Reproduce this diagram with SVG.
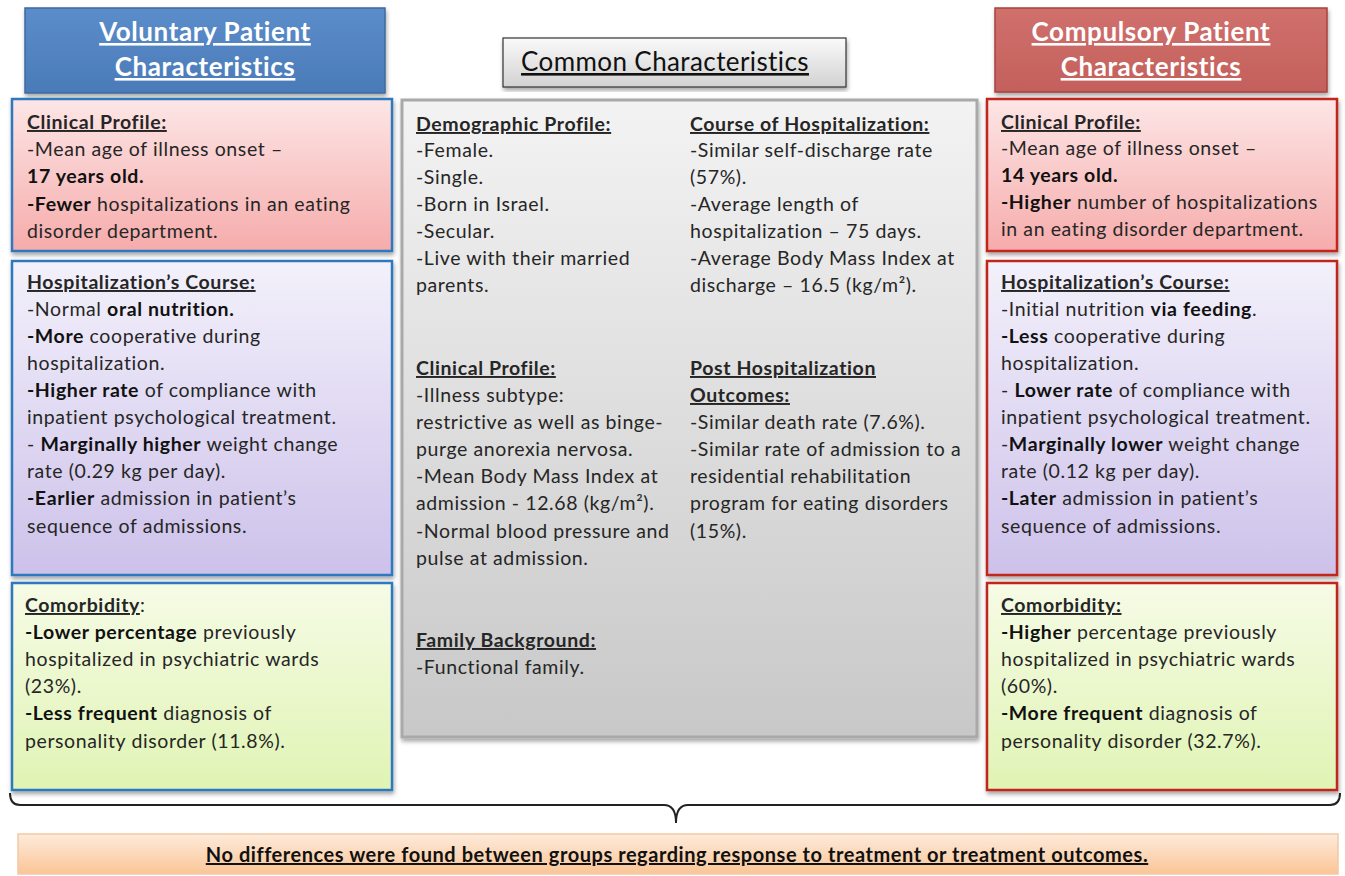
<svg xmlns="http://www.w3.org/2000/svg" width="1345" height="876" viewBox="0 0 1345 876">
<defs>
<linearGradient id="gPink" x1="0" y1="0" x2="0" y2="1"><stop offset="0" stop-color="#fde6e6"/><stop offset="1" stop-color="#f6abab"/></linearGradient>
<linearGradient id="gLav" x1="0" y1="0" x2="0" y2="1"><stop offset="0" stop-color="#f3f1fb"/><stop offset="1" stop-color="#cdc1ea"/></linearGradient>
<linearGradient id="gGreen" x1="0" y1="0" x2="0" y2="1"><stop offset="0" stop-color="#f6fbe6"/><stop offset="1" stop-color="#e0f4b4"/></linearGradient>
<linearGradient id="gGray" x1="0" y1="0" x2="0" y2="1"><stop offset="0" stop-color="#f3f3f3"/><stop offset="1" stop-color="#c8c8c8"/></linearGradient>
<linearGradient id="gHead" x1="0" y1="0" x2="0" y2="1"><stop offset="0" stop-color="#fafafa"/><stop offset="1" stop-color="#d2d2d2"/></linearGradient>
<linearGradient id="gBlue" x1="0" y1="0" x2="0" y2="1"><stop offset="0" stop-color="#5b8dca"/><stop offset="1" stop-color="#4a7bb8"/></linearGradient>
<linearGradient id="gRed" x1="0" y1="0" x2="0" y2="1"><stop offset="0" stop-color="#d0706c"/><stop offset="1" stop-color="#c3605c"/></linearGradient>
<linearGradient id="gOrange" x1="0" y1="0" x2="0" y2="1"><stop offset="0" stop-color="#fdebdc"/><stop offset="1" stop-color="#fbc596"/></linearGradient>
<filter id="sh" x="-5%" y="-5%" width="110%" height="115%"><feDropShadow dx="1" dy="3" stdDeviation="2" flood-color="#000" flood-opacity="0.35"/></filter>
</defs>
<style>
text{font-family:Lato,"Open Sans","Liberation Sans",sans-serif;fill:#262626;font-size:19.5px;letter-spacing:0.6px}
.h{font-weight:bold;text-decoration:underline}
.b{font-weight:bold;fill:#111}
.hd{font-weight:bold;font-size:26px;letter-spacing:0.6px;fill:#fff;text-decoration:underline;text-anchor:middle}
.blueB{stroke:#2f78bd;stroke-width:2.5}
.redB{stroke:#c0261d;stroke-width:2.5}
</style>
<rect width="1345" height="876" fill="#ffffff"/>

<g id="voluntary-header">
<rect x="25" y="8" width="360" height="85" fill="url(#gBlue)" stroke="#3d6aa0" stroke-width="1.5" filter="url(#sh)"/>
<text class="hd" x="205" y="41">Voluntary Patient</text>
<text class="hd" x="205" y="76">Characteristics</text>
</g>

<g id="common-header">
<rect x="503" y="38" width="343" height="49" fill="url(#gHead)" stroke="#333" stroke-width="1.2" filter="url(#sh)"/>
<text x="665" y="71" text-anchor="middle" style="font-size:26px;letter-spacing:0.4px;text-decoration:underline;fill:#111">Common Characteristics</text>
</g>

<g id="compulsory-header">
<rect x="995" y="8" width="332" height="84" fill="url(#gRed)" stroke="#a8413d" stroke-width="1.5" filter="url(#sh)"/>
<text class="hd" x="1151" y="41">Compulsory Patient</text>
<text class="hd" x="1151" y="76">Characteristics</text>
</g>

<g id="vol-clinical">
<rect x="12" y="99" width="380" height="152" fill="url(#gPink)" class="blueB" filter="url(#sh)"/>
<text x="27" y="129" class="h">Clinical Profile:</text>
<text x="27" y="156">-Mean age of illness onset –</text>
<text x="27" y="183" class="b">17 years old.</text>
<text x="27" y="211"><tspan class="b">-Fewer</tspan> hospitalizations in an eating</text>
<text x="27" y="238">disorder department.</text>
</g>

<g id="vol-hospitalization">
<rect x="12" y="261" width="380" height="314" fill="url(#gLav)" class="blueB" filter="url(#sh)"/>
<text x="27" y="289" class="h">Hospitalization’s Course:</text>
<text x="27" y="316">-Normal <tspan class="b">oral nutrition.</tspan></text>
<text x="27" y="343"><tspan class="b">-More</tspan> cooperative during</text>
<text x="27" y="370">hospitalization.</text>
<text x="27" y="397"><tspan class="b">-Higher rate</tspan> of compliance with</text>
<text x="27" y="424">inpatient psychological treatment.</text>
<text x="27" y="451">- <tspan class="b">Marginally higher</tspan> weight change</text>
<text x="27" y="478">rate (0.29 kg per  day).</text>
<text x="27" y="505"><tspan class="b">-Earlier</tspan> admission in patient’s</text>
<text x="27" y="533">sequence of admissions.</text>
</g>

<g id="vol-comorbidity">
<rect x="12" y="583" width="380" height="207" fill="url(#gGreen)" class="blueB" filter="url(#sh)"/>
<text x="25" y="612"><tspan class="h">Comorbidity</tspan>:</text>
<text x="25" y="639"><tspan class="b">-Lower percentage</tspan> previously</text>
<text x="25" y="666">hospitalized in psychiatric wards</text>
<text x="25" y="693">(23%).</text>
<text x="25" y="720"><tspan class="b">-Less frequent</tspan> diagnosis of</text>
<text x="25" y="748">personality disorder  (11.8%).</text>
</g>

<g id="common-body">
<rect x="402" y="100" width="575" height="637" fill="url(#gGray)" stroke="#a9a9a9" stroke-width="3" filter="url(#sh)"/>
<text x="416" y="131" class="h">Demographic Profile:</text>
<text x="416" y="157">-Female.</text>
<text x="416" y="184">-Single.</text>
<text x="416" y="211">-Born in Israel.</text>
<text x="416" y="238">-Secular.</text>
<text x="416" y="265">-Live with their married</text>
<text x="416" y="292">parents.</text>
<text x="690" y="131" class="h">Course of Hospitalization:</text>
<text x="690" y="157">-Similar self-discharge rate</text>
<text x="690" y="184">(57%).</text>
<text x="690" y="211">-Average length of</text>
<text x="690" y="238">hospitalization – 75 days.</text>
<text x="690" y="265">-Average Body Mass Index at</text>
<text x="690" y="292">discharge – 16.5 (kg/m²).</text>
<text x="416" y="375" class="h">Clinical Profile:</text>
<text x="416" y="402">-Illness subtype:</text>
<text x="416" y="429">restrictive as well as binge-</text>
<text x="416" y="456">purge anorexia nervosa.</text>
<text x="416" y="483">-Mean Body Mass Index at</text>
<text x="416" y="510">admission - 12.68 (kg/m²).</text>
<text x="416" y="538">-Normal blood pressure and</text>
<text x="416" y="565">pulse at admission.</text>
<text x="690" y="375" class="h">Post Hospitalization</text>
<text x="690" y="402" class="h">Outcomes:</text>
<text x="690" y="429">-Similar death rate (7.6%).</text>
<text x="690" y="456">-Similar rate of admission to a</text>
<text x="690" y="483">residential rehabilitation</text>
<text x="690" y="510">program for eating disorders</text>
<text x="690" y="538">(15%).</text>
<text x="416" y="647" class="h">Family Background:</text>
<text x="416" y="674">-Functional family.</text>
</g>

<g id="comp-clinical">
<rect x="987" y="99" width="350" height="152" fill="url(#gPink)" class="redB" filter="url(#sh)"/>
<text x="1001" y="129" class="h">Clinical Profile:</text>
<text x="1001" y="155">-Mean age of illness onset –</text>
<text x="1001" y="182" class="b">14 years old.</text>
<text x="1001" y="209"><tspan class="b">-Higher</tspan> number of hospitalizations</text>
<text x="1001" y="236">in an eating disorder  department.</text>
</g>

<g id="comp-hospitalization">
<rect x="987" y="261" width="350" height="314" fill="url(#gLav)" class="redB" filter="url(#sh)"/>
<text x="1001" y="289" class="h">Hospitalization’s Course:</text>
<text x="1001" y="316">-Initial nutrition <tspan class="b">via feeding</tspan>.</text>
<text x="1001" y="343"><tspan class="b">-Less</tspan> cooperative during</text>
<text x="1001" y="370">hospitalization.</text>
<text x="1001" y="397">- <tspan class="b">Lower rate</tspan> of compliance with</text>
<text x="1001" y="424">inpatient psychological treatment.</text>
<text x="1001" y="451">-<tspan class="b">Marginally lower</tspan> weight change</text>
<text x="1001" y="478">rate (0.12 kg per  day).</text>
<text x="1001" y="505"><tspan class="b">-Later</tspan> admission in patient’s</text>
<text x="1001" y="533">sequence of admissions.</text>
</g>

<g id="comp-comorbidity">
<rect x="987" y="583" width="350" height="207" fill="url(#gGreen)" class="redB" filter="url(#sh)"/>
<text x="1001" y="612" class="h">Comorbidity:</text>
<text x="1001" y="639"><tspan class="b">-Higher</tspan> percentage previously</text>
<text x="1001" y="666">hospitalized in psychiatric wards</text>
<text x="1001" y="693">(60%).</text>
<text x="1001" y="720"><tspan class="b">-More frequent</tspan> diagnosis of</text>
<text x="1001" y="748">personality disorder  (32.7%).</text>
</g>

<g id="connectors">
<path d="M10,793 Q10,805 20,805 L664,805 Q676,805 676,823 Q676,805 688,805 L1330,805 Q1340,805 1340,793" fill="none" stroke="#222" stroke-width="2"/>
</g>

<g id="summary">
<rect x="18" y="834" width="1320" height="40" fill="url(#gOrange)" stroke="#f2c9a4" stroke-width="1.5"/>
<text x="677" y="862" text-anchor="middle" class="b" style="font-size:20px;letter-spacing:0.55px;text-decoration:underline">No differences were found between groups regarding response to treatment or treatment outcomes.</text>
</g>
</svg>
